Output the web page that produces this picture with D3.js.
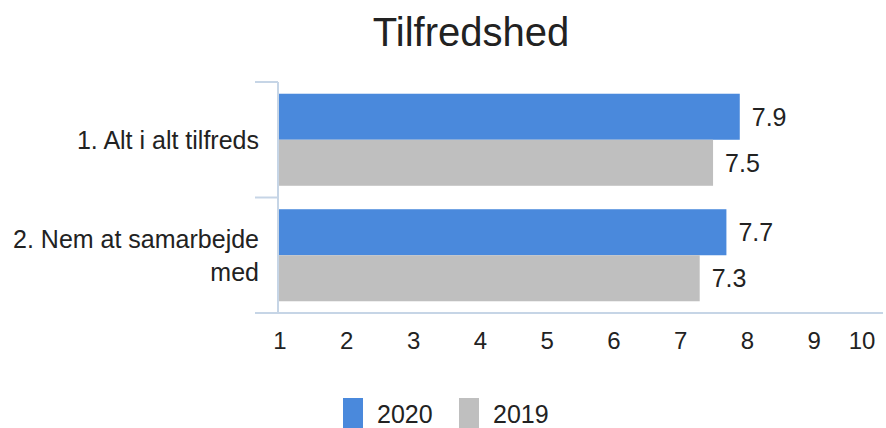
<!DOCTYPE html>
<html>
<head>
<meta charset="utf-8">
<script src="https://cdn.jsdelivr.net/npm/d3@7"></script>
<style>
  html, body { margin: 0; padding: 0; background: #fff; }
  svg { display: block; font-family: "Liberation Sans", Arial, sans-serif; }
</style>
</head>
<body>
<svg id="chart" width="886" height="428"></svg>
<script>
// Satisfaction scores per question, two survey years
const categories = [["1. Alt i alt tilfreds"], ["2. Nem at samarbejde", "med"]];
const categoryKeys = ["q1", "q2"];
const seriesNames = ["2020", "2019"];
const values2020 = [7.9, 7.7];
const values2019 = [7.5, 7.3];
const xTicks = [1, 2, 3, 4, 5, 6, 7, 8, 9, 10];
const seriesColors = ["#4a89dc", "#bfbfbf"];

const svg = d3.select("#chart");
const axisColor = "#c6d5e6";
const textColor = "#222";

const plotLeft = 279, plotRight = 880, plotTop = 82, plotBottom = 313;

const x = d3.scaleLinear().domain([1, 10]).range([plotLeft, plotRight]);
const y0 = d3.scaleBand().domain(categoryKeys).range([plotTop, plotBottom]).padding(0);
const y1 = d3.scaleBand().domain(seriesNames).range([0, y0.bandwidth()])
  .paddingInner(0).paddingOuter(0.255);

const rows = categoryKeys.map((k, i) => ({
  key: k,
  lines: categories[i],
  vals: [values2020[i], values2019[i]]
}));

// Title
svg.append("text")
  .attr("x", 471).attr("y", 46)
  .attr("text-anchor", "middle")
  .attr("font-size", 40)
  .attr("fill", textColor)
  .text("Tilfredshed");

// Bars
const groups = svg.append("g").selectAll("g").data(rows).join("g")
  .attr("transform", d => `translate(0,${y0(d.key)})`);

groups.selectAll("rect")
  .data(d => d.vals.map((v, j) => ({ v, s: seriesNames[j], c: seriesColors[j] })))
  .join("rect")
  .attr("x", x(1))
  .attr("y", d => y1(d.s))
  .attr("width", d => x(d.v) - x(1))
  .attr("height", y1.bandwidth())
  .attr("fill", d => d.c);

// Value labels
groups.selectAll("text.val")
  .data(d => d.vals.map((v, j) => ({ v, s: seriesNames[j] })))
  .join("text")
  .attr("class", "val")
  .attr("x", d => x(d.v) + 12)
  .attr("y", d => y1(d.s) + y1.bandwidth() / 2)
  .attr("dy", "0.36em")
  .attr("font-size", 25)
  .attr("fill", textColor)
  .text(d => d3.format(".1f")(d.v));

// Category axis line and separators
const axisG = svg.append("g");
axisG.append("line")
  .attr("x1", plotLeft - 1).attr("x2", plotLeft - 1)
  .attr("y1", plotTop).attr("y2", plotBottom)
  .attr("stroke", axisColor).attr("stroke-width", 2);
const bounds = [plotTop, ...categoryKeys.map(k => y0(k) + y0.bandwidth())];
axisG.selectAll("line.sep").data(bounds.slice(0, -1)).join("line")
  .attr("class", "sep")
  .attr("x1", 255).attr("x2", plotLeft - 1)
  .attr("y1", d => d).attr("y2", d => d)
  .attr("stroke", axisColor).attr("stroke-width", 2);

// Value axis baseline
axisG.append("line")
  .attr("x1", 255).attr("x2", 883)
  .attr("y1", plotBottom).attr("y2", plotBottom)
  .attr("stroke", axisColor).attr("stroke-width", 2);

// Category labels (right aligned, wrapped)
const lineH = 33;
rows.forEach(r => {
  const cy = y0(r.key) + y0.bandwidth() / 2;
  const n = r.lines.length;
  r.lines.forEach((ln, i) => {
    svg.append("text")
      .attr("x", 259)
      .attr("y", cy + (i - (n - 1) / 2) * lineH)
      .attr("dy", "0.36em")
      .attr("text-anchor", "end")
      .attr("font-size", 25)
      .attr("fill", textColor)
      .text(ln);
  });
});

// X tick labels
svg.append("g").selectAll("text").data(xTicks).join("text")
  .attr("x", d => d === 10 ? x(d) - 18 : x(d) + 1)
  .attr("y", 340)
  .attr("dy", "0.36em")
  .attr("text-anchor", "middle")
  .attr("font-size", 24)
  .attr("fill", textColor)
  .text(d => d);

// Legend
const legend = svg.append("g");
const legendItems = [
  { name: seriesNames[0], color: seriesColors[0], x: 343 },
  { name: seriesNames[1], color: seriesColors[1], x: 459 }
];
legendItems.forEach(it => {
  legend.append("rect")
    .attr("x", it.x).attr("y", 398)
    .attr("width", 20).attr("height", 30)
    .attr("fill", it.color);
  legend.append("text")
    .attr("x", it.x + 34).attr("y", 414)
    .attr("dy", "0.36em")
    .attr("font-size", 25)
    .attr("fill", textColor)
    .text(it.name);
});
</script>
</body>
</html>
